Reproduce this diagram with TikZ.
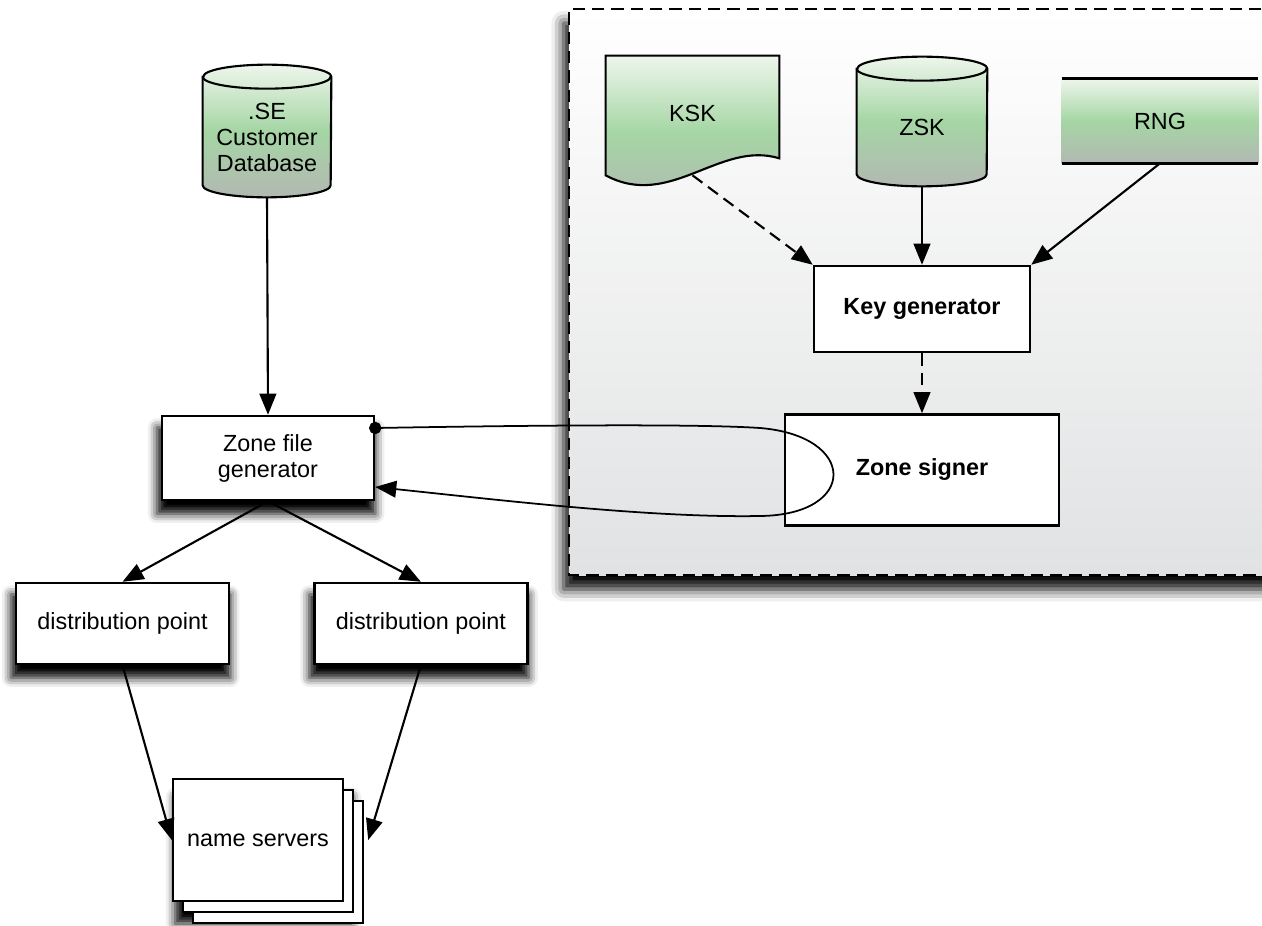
\documentclass[tikz,border=0pt]{standalone}
\usepackage{fontspec}
\setmainfont{Liberation Sans}
\usepackage{tikz}
\usetikzlibrary{arrows.meta, positioning, shadows, shadows.blur, calc}

\definecolor{leafTop}{HTML}{EEF6EC}
\definecolor{leafMid}{HTML}{A5D6A4}
\definecolor{leafLow}{HTML}{B2B8B2}
\definecolor{panelLow}{HTML}{E1E2E3}

% upright drum round a frame node: #1 node, #2 half width, #3 cap radius
\newcommand{\drum}[3]{%
  \path[leaf] (#1.north west) -- ($(#1.south west)+(0,-#3)$)
    arc[start angle=180, end angle=0, x radius=#2, y radius=#3]
    -- (#1.north east)
    arc[start angle=0, end angle=-180, x radius=#2, y radius=#3] -- cycle;
  \draw[line width=1.2pt] (#1.north west)
    arc[start angle=180, end angle=0, x radius=#2, y radius=#3];
}

\begin{document}
\begin{tikzpicture}[x=0.02cm, y=-0.02cm,
  font=\fontsize{13.3}{14.8}\selectfont,
  strong/.style={font=\fontsize{13.3}{14.8}\selectfont\bfseries},
  box/.style={draw, line width=1.4pt, fill=white, inner sep=0pt, align=center},
  lifted/.style={box,
    blur shadow={shadow xshift=-1pt, shadow yshift=-7pt, shadow scale=1.03,
      shadow blur radius=5pt, shadow opacity=100}},
  frame/.style={inner sep=0pt},
  leaf/.style={draw, line width=1.2pt, top color=leafTop, bottom color=leafLow, middle color=leafMid},
  arrowhead/.style={-{Triangle[length=12pt, width=9.5pt, fill=black]}},
  flow/.style={arrowhead, draw=black, line width=1.2pt},
  hint/.style={flow, dash pattern=on 7pt off 4pt}
]
\clip (0,0) rectangle (1262,926);

% signing side
\shade[top color=white, bottom color=panelLow,
  blur shadow={shadow xshift=-3pt, shadow yshift=-8pt, shadow blur radius=7pt, shadow opacity=100}]
  (569,9) rectangle (1300,575);
\draw[line width=1.6pt, dash pattern=on 7pt off 4pt] (1300,9) -- (569,9) -- (569,575) -- (1300,575);

% customer database
\node[frame, minimum width=2.56cm, minimum height=2.4cm] (db) at (267,137) {};
\drum{db}{64}{12}
\node[align=center] (db-text) at (db) {.SE\\Customer\\Database};

% key material
\node[frame, minimum width=3.46cm, minimum height=2.38cm] (ksk) at (692.5,115.5) {};
\path[leaf] (ksk.north west) -- (ksk.north east) -- ($(ksk.south east)+(0,-17)$)
  .. controls (720,140) and (670,210) .. (ksk.south west) -- cycle;
\node (ksk-text) at ([yshift=0.04cm]ksk) {KSK};

\node[frame, minimum width=2.6cm, minimum height=2.34cm] (zsk) at (922,127.5) {};
\drum{zsk}{65}{12}
\node (zsk-text) at (zsk) {ZSK};

\node[frame, minimum width=3.92cm, minimum height=1.68cm] (rng) at (1160,121) {};
\path[leaf, draw=none] (rng.north west) rectangle (rng.south east);
\draw[line width=1.6pt] (rng.north west) -- (rng.north east) (rng.south west) -- (rng.south east);
\node (rng-text) at (rng) {RNG};

% processing boxes
\node[box, strong, minimum width=4.32cm, minimum height=1.72cm] (keygen) at (922,309) {Key generator};
\node[box, strong, minimum width=5.48cm, minimum height=2.22cm, below=1.2cm of keygen] (signer) {Zone signer};
\node[lifted, minimum width=4.24cm, minimum height=1.68cm] (zfg) at (268,458) {Zone file\\generator};
\node[lifted, minimum width=4.26cm, minimum height=1.62cm] (dp1) at (122.5,623.5) {distribution point};
\node[lifted, minimum width=4.26cm, minimum height=1.62cm, right=1.66cm of dp1] (dp2) {distribution point};
\node[box, minimum width=3.4cm, minimum height=2.44cm,
  blur shadow={shadow xshift=3pt, shadow yshift=-11pt, shadow scale=1.04,
    shadow blur radius=5pt, shadow opacity=100},
  double copy shadow={shadow xshift=0.2cm, shadow yshift=-0.22cm, draw, fill=white, line width=1.4pt}]
  (ns) at (258,840) {name servers};

% connectors
\draw[flow] (db.south) -- (zfg.north);
\draw[hint] (ksk.south) -- (keygen.north west);
\draw[flow] (zsk.south) -- (keygen.north);
\draw[flow] (rng.south) -- (keygen.north east);
\draw[hint] (keygen.south) -- (signer.north);
\draw[flow] (zfg.south) -- (dp1.north);
\draw[flow] (zfg.south) -- (dp2.north);
\draw[flow] (dp1.south) -- (ns.west);
\draw[flow] (dp2.south) -- ([xshift=0.48cm]ns.east);

% round trip through the signer
\draw[draw=black, line width=1pt, shorten <=-3.5pt,
  {Circle[length=7pt, fill=black]}-{Triangle[length=12pt, width=9.5pt, fill=black]}]
  ([yshift=0.6cm]zfg.east) .. controls (550,425) and (700,424) .. (760,428)
  .. controls (858,436) and (858,515) .. (760,516)
  .. controls (650,518) and (500,500) .. ([yshift=-0.58cm]zfg.east);
\end{tikzpicture}
\end{document}
